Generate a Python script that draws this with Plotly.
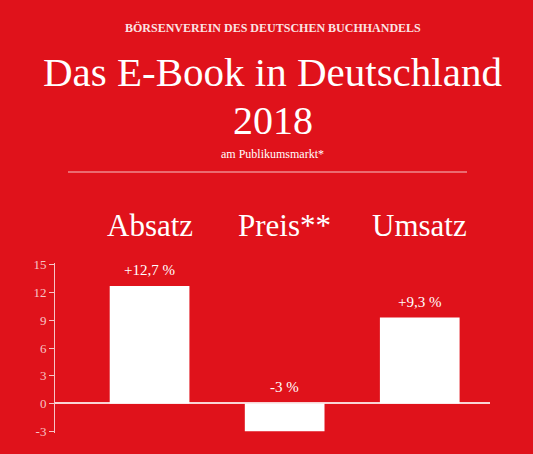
import plotly.graph_objects as go

categories = ["Absatz", "Preis**", "Umsatz"]
values = [12.7, -3, 9.3]
labels = ["+12,7 %", "-3 %", "+9,3 %"]
tick_vals = [-3, 0, 3, 6, 9, 12, 15]
tick_text = ["-3", "0", "3", "6", "9", "12", "15"]

RED = "#e0121b"
PINK = "#f6c4c6"
SERIF = "Liberation Serif, DejaVu Serif, serif"

TOP, BOT = 263, 433


def py(pix):
    # pixel row -> paper coordinate
    return (BOT - pix) / (BOT - TOP)


fig = go.Figure(go.Bar(
    x=[0, 1, 2], y=values, width=0.59,
    marker=dict(color="white", line=dict(width=0)),
))

fig.update_layout(
    width=533, height=454,
    paper_bgcolor=RED, plot_bgcolor=RED,
    margin=dict(l=55, r=43, t=TOP, b=454 - BOT),
    showlegend=False,
    xaxis=dict(range=[-0.7, 2.52], showticklabels=False, showgrid=False,
               zeroline=False, showline=False, ticks=""),
    yaxis=dict(range=[-3.2, 15.2], tickvals=tick_vals, ticktext=tick_text, showgrid=False,
               zeroline=True, zerolinecolor="#f9d4d5", zerolinewidth=1.5,
               showline=True, linecolor=PINK, linewidth=1,
               ticks="outside", ticklen=5, tickcolor=PINK,
               tickfont=dict(family=SERIF, size=13, color=PINK)),
)

# value labels sit above the bar (or above the zero line for negatives)
for i, (v, t) in enumerate(zip(values, labels)):
    fig.add_annotation(x=i, y=max(v, 0), xref="x", yref="y", text=t,
                       showarrow=False, yanchor="bottom", yshift=6,
                       font=dict(family=SERIF, size=15, color="white"))

for i, c in enumerate(categories):
    fig.add_annotation(x=i, y=py(225), xref="x", yref="paper", text=c, yanchor="middle",
                       showarrow=False, font=dict(family=SERIF, size=31, color="white"))

titles = [
    ("<b>BÖRSENVEREIN DES DEUTSCHEN BUCHHANDELS</b>", 28, 12, "#fbe3e3"),
    ("Das E-Book in Deutschland", 72, 41, "white"),
    ("2018", 120, 40, "white"),
    ("am Publikumsmarkt*", 154, 12, "white"),
]
for text, pix, size, col in titles:
    fig.add_annotation(x=0.5, y=py(pix), xref="paper", yref="paper", showarrow=False,
                       yanchor="middle", text=text,
                       font=dict(family=SERIF, size=size, color=col))

fig.add_shape(type="line", xref="paper", yref="paper",
              x0=(68 - 55) / 435, x1=(467 - 55) / 435, y0=py(172), y1=py(172),
              line=dict(color=PINK, width=1))

fig.write_html("out.html", config={"displayModeBar": False},
               post_script="document.body.style.margin='0';")
